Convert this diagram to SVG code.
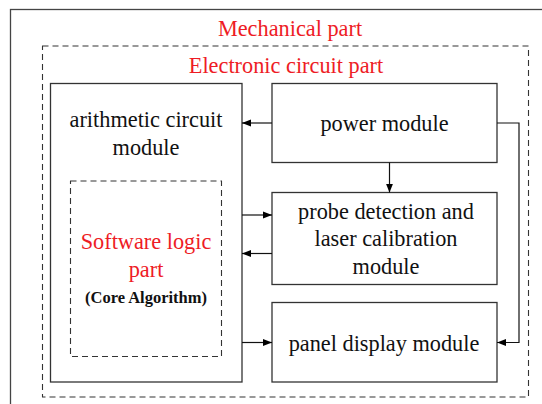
<svg xmlns="http://www.w3.org/2000/svg" width="542" height="404" viewBox="0 0 542 404">
<style>
text{font-family:'Liberation Serif','Times New Roman',serif;font-size:22.3px;fill:#111;text-anchor:middle}
.r{fill:#ee1c25}
.b{font-weight:bold;font-size:16.5px}
.box{fill:#fff;stroke:#333;stroke-width:1.3}
.dash{fill:none;stroke:#333;stroke-width:1.1;stroke-dasharray:6,4}
.ln{fill:none;stroke:#111;stroke-width:1.2}
</style>
<defs>
<marker id="ah" viewBox="0 0 10 10" refX="10" refY="5" markerWidth="9" markerHeight="9" markerUnits="userSpaceOnUse" orient="auto">
<path d="M0,1 L10,5 L0,9 Z" fill="#000"/>
</marker>
</defs>
<rect width="542" height="404" fill="#fff"/>
<g id="mechanical">
<rect x="10.5" y="9.5" width="545" height="410" fill="none" stroke="#444" stroke-width="1.3"/>
<text class="r" x="290" y="36">Mechanical part</text>
</g>
<g id="electronic">
<rect class="dash" x="42.5" y="46" width="486" height="351"/>
<text class="r" x="286" y="73">Electronic circuit part</text>
</g>
<g id="arithmetic">
<rect class="box" x="50.5" y="83.5" width="191.5" height="298.5"/>
<text x="146" y="126.5">arithmetic circuit</text>
<text x="146" y="155">module</text>
</g>
<g id="software">
<rect class="dash" x="70.5" y="181" width="151" height="175.5"/>
<text class="r" x="146" y="248.5">Software logic</text>
<text class="r" x="146" y="276.5">part</text>
<text class="b" x="146" y="303">(Core Algorithm)</text>
</g>
<g id="power">
<rect class="box" x="272" y="83.5" width="225" height="79"/>
<text x="384.5" y="130.5">power module</text>
</g>
<g id="probe">
<rect class="box" x="272" y="192.5" width="225" height="92"/>
<text x="386" y="218.5">probe detection and</text>
<text x="386" y="245.5">laser calibration</text>
<text x="386" y="273.5">module</text>
</g>
<g id="panel">
<rect class="box" x="272" y="302.5" width="225" height="79.5"/>
<text x="384" y="350.5">panel display module</text>
</g>
<g id="connectors">
<line class="ln" x1="272" y1="123" x2="242" y2="123" marker-end="url(#ah)"/>
<line class="ln" x1="389.5" y1="162.5" x2="389.5" y2="192.5" marker-end="url(#ah)"/>
<line class="ln" x1="242" y1="215" x2="272" y2="215" marker-end="url(#ah)"/>
<line class="ln" x1="272" y1="253.5" x2="242" y2="253.5" marker-end="url(#ah)"/>
<line class="ln" x1="242" y1="342.5" x2="272" y2="342.5" marker-end="url(#ah)"/>
<polyline class="ln" points="497,123 519,123 519,342.5 497,342.5" marker-end="url(#ah)"/>
</g>
</svg>
